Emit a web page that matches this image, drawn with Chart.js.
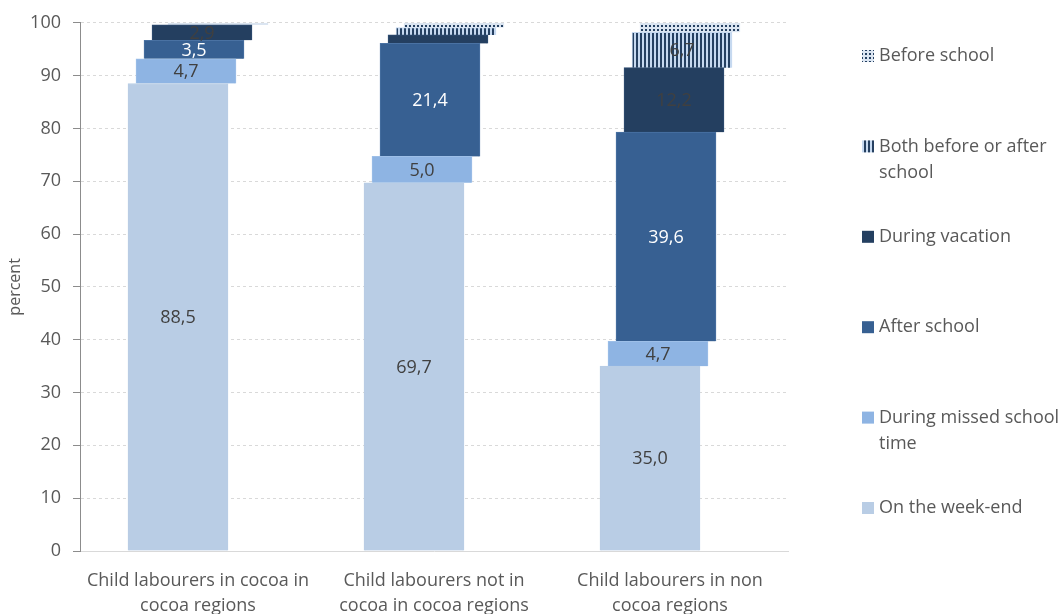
<!DOCTYPE html>
<html>
<head>
<meta charset="utf-8">
<script src="https://cdn.jsdelivr.net/npm/chart.js@4"></script>
<style>
  body { margin: 0; background: #fff; }
  #wrap { width: 1062px; height: 614px; }
</style>
</head>
<body>
<div id="wrap"><canvas id="myChart" width="1062" height="614"></canvas></div>
<script>
// categories and series (bottom of stack first)
var categories = [
  ["Child labourers in cocoa in", "cocoa regions"],
  ["Child labourers not in", "cocoa in cocoa regions"],
  ["Child labourers in non", "cocoa regions"]
];
var seriesNames = ["On the week-end", "During missed school time", "After school",
  "During vacation", "Both before or after school", "Before school"];
var weekEnd = [88.5, 69.7, 35.0];
var missedSchool = [4.7, 5.0, 4.7];
var afterSchool = [3.5, 21.4, 39.6];
var vacation = [2.9, 1.6, 12.2];
var beforeOrAfter = [0, 1.4, 6.7];
var beforeSchool = [0.4, 0.9, 1.8];
var yTicks = [0, 10, 20, 30, 40, 50, 60, 70, 80, 90, 100];

var textGrey = "#595959";
var fontFam = "'Open Sans', 'Noto Sans', sans-serif";

function makePattern(kind) {
  var c = document.createElement("canvas");
  c.width = 4;
  c.height = 4;
  var g = c.getContext("2d");
  g.fillStyle = kind === "stripes" ? "#c6d9f0" : "#dbe5f1";
  g.fillRect(0, 0, 4, 4);
  g.fillStyle = "#254061";
  if (kind === "stripes") {
    g.fillRect(0, 0, 2, 4);
  } else {
    g.fillRect(1, 1, 2, 2);
  }
  return g.createPattern(c, "repeat");
}

var fills = ["#b9cde5", "#8eb4e3", "#376092", "#243f60", makePattern("stripes"), makePattern("dots")];
var borders = ["#b9cde5", "#9dbfe8", "#4a72a3", "#2f4d72", "#c6d9f0", "#dbe5f1"];
var labelColors = ["#404040", "#404040", "#ffffff", "#404040", "#404040", "#404040"];
var values = [weekEnd, missedSchool, afterSchool, vacation, beforeOrAfter, beforeSchool];

// each series sits a bit to the right of the one below it
var shiftPlugin = {
  id: "shift",
  afterDatasetsUpdate: function (chart) {
    var n = chart.data.datasets.length;
    chart.data.datasets.forEach(function (ds, i) {
      chart.getDatasetMeta(i).data.forEach(function (bar) {
        bar.x += (i - (n - 1) / 2) * 8;
      });
    });
  }
};

var labelPlugin = {
  id: "barLabels",
  afterDatasetsDraw: function (chart) {
    var ctx = chart.ctx;
    ctx.save();
    ctx.font = "18px " + fontFam;
    ctx.textAlign = "center";
    ctx.textBaseline = "middle";
    chart.data.datasets.forEach(function (ds, i) {
      chart.getDatasetMeta(i).data.forEach(function (bar, j) {
        var v = ds.data[j];
        if (v < 2) return;
        ctx.fillStyle = labelColors[i];
        ctx.fillText(v.toFixed(1).replace(".", ","), bar.x, (bar.y + bar.base) / 2 + 1);
      });
    });
    ctx.restore();
  }
};

var legendPlugin = {
  id: "sideLegend",
  afterDraw: function (chart) {
    var ctx = chart.ctx;
    ctx.save();
    ctx.font = "18px " + fontFam;
    ctx.textBaseline = "middle";
    var y = 56;
    for (var i = seriesNames.length - 1; i >= 0; i--) {
      // simple word wrap
      var words = seriesNames[i].split(" ");
      var lines = [];
      var line = "";
      words.forEach(function (w) {
        var test = line ? line + " " + w : w;
        if (ctx.measureText(test).width > 184 && line) {
          lines.push(line);
          line = w;
        } else {
          line = test;
        }
      });
      lines.push(line);
      ctx.fillStyle = fills[i];
      ctx.fillRect(862, y - 6, 12, 12);
      ctx.fillStyle = textGrey;
      lines.forEach(function (l, k) {
        ctx.fillText(l, 879, y + k * 26);
      });
      y += 90.4;
    }
    ctx.restore();
  }
};

new Chart("myChart", {
  type: "bar",
  data: {
    labels: categories,
    datasets: seriesNames.map(function (name, i) {
      return {
        label: name,
        data: values[i],
        backgroundColor: fills[i],
        borderColor: borders[i],
        borderWidth: 1,
        barThickness: 100
      };
    })
  },
  plugins: [shiftPlugin, labelPlugin, legendPlugin],
  options: {
    responsive: false,
    animation: false,
    layout: { padding: { left: 0, right: 274, top: 22, bottom: 0 } },
    plugins: {
      legend: { display: false },
      tooltip: { enabled: false }
    },
    scales: {
      x: {
        stacked: true,
        grid: { display: false },
        border: { display: true, color: "#d9d9d9", dash: [2, 2] },
        ticks: {
          color: textGrey,
          font: { family: fontFam, size: 18, lineHeight: 1.4 },
          padding: 9,
          maxRotation: 0
        },
        afterFit: function (scale) { scale.height = 63; }
      },
      y: {
        stacked: true,
        min: 0,
        max: 100,
        afterBuildTicks: function (scale) {
          scale.ticks = yTicks.map(function (v) { return { value: v }; });
        },
        grid: {
          color: "#d9d9d9",
          tickColor: "#8c8c8c",
          tickLength: 7
        },
        border: { display: true, color: "#8c8c8c", dash: [3, 3] },
        ticks: {
          color: textGrey,
          font: { family: fontFam, size: 18 },
          padding: 12
        },
        title: {
          display: true,
          text: "percent",
          color: textGrey,
          font: { family: fontFam, size: 16 },
          padding: { top: 6, bottom: 0 }
        },
        afterFit: function (scale) { scale.width = 80; }
      }
    }
  }
});
</script>
</body>
</html>
